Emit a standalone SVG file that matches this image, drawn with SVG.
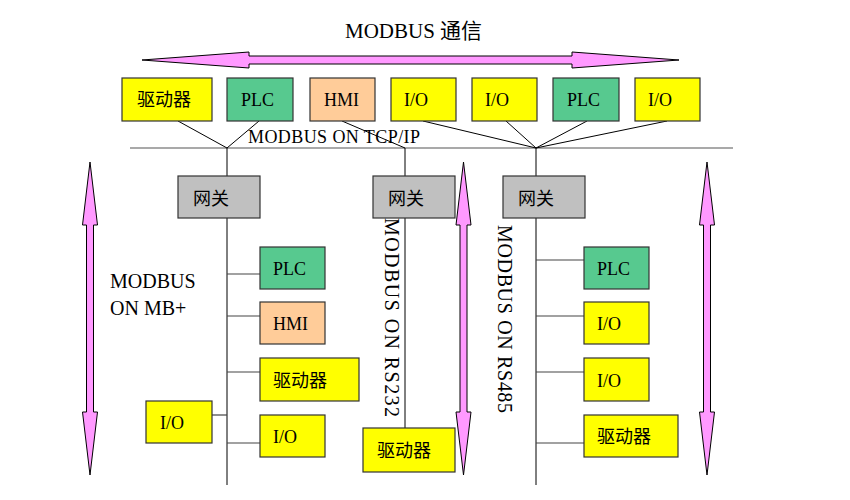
<svg xmlns="http://www.w3.org/2000/svg" width="850" height="500" viewBox="0 0 850 500">
<style>
text{font-family:"Liberation Serif","Noto Sans CJK SC",serif;fill:#000}
.t{font-size:18px}
.lbl{font-size:20px}
.box{stroke:#333;stroke-width:1.2}
.y{fill:#FFFF00}
.g{fill:#57C98F}
.h{fill:#FFCC99}
.gw{fill:#C0C0C0}
.ln{stroke:#000;stroke-width:1;fill:none}
.br{stroke:#444;stroke-width:1.2;fill:none}
.arr{fill:#FF99FF;stroke:#000;stroke-width:1}
</style>
<rect width="850" height="500" fill="#fff"/>
<text x="345" y="38" style="font-size:21px">MODBUS 通信</text>
<polygon class="arr" points="142,60 249,52 249,56 572,56 572,52 679,60 572,68 572,64 249,64 249,68"/>
<polygon class="arr" points="90,162 97.5,225 93.5,225 93.5,412 97.5,412 90,475 82.5,412 86.5,412 86.5,225 82.5,225"/>
<polygon class="arr" points="463.5,162 471,225 467,225 467,412 471,412 463.5,475 456,412 460,412 460,225 456,225"/>
<polygon class="arr" points="707,162 714.5,225 710.5,225 710.5,412 714.5,412 707,475 699.5,412 703.5,412 703.5,225 699.5,225"/>
<g id="connectors">
<line class="br" x1="130" y1="148" x2="733" y2="148" style="stroke:#555"/>
<polyline class="ln" points="178,121 227,148 259,121"/>
<line class="ln" x1="342" y1="121" x2="405" y2="148"/>
<polyline class="ln" points="423,121 536,148 506,121"/>
<polyline class="ln" points="587,121 536,148 667,121"/>
<line class="ln" x1="227" y1="148" x2="227" y2="485"/>
<line class="ln" x1="405" y1="148" x2="405" y2="428"/>
<line class="ln" x1="536" y1="148" x2="536" y2="485"/>
<line class="br" x1="227" y1="274" x2="260" y2="274"/>
<line class="br" x1="227" y1="316" x2="260" y2="316"/>
<line class="br" x1="227" y1="372" x2="260" y2="372"/>
<line class="br" x1="227" y1="443" x2="260" y2="443"/>
<line class="br" x1="212" y1="415" x2="227" y2="415"/>
<line class="br" x1="536" y1="260" x2="584" y2="260"/>
<line class="br" x1="536" y1="316" x2="584" y2="316"/>
<line class="br" x1="536" y1="372" x2="584" y2="372"/>
<line class="br" x1="536" y1="443" x2="584" y2="443"/>
</g>
<text x="248" y="143" class="t" textLength="172">MODBUS ON TCP/IP</text>
<g id="top-drive"><rect class="box y" x="122" y="78" width="90" height="43"/><text class="t" x="137" y="106">驱动器</text></g>
<g id="top-plc1"><rect class="box g" x="227" y="78" width="66" height="43"/><text class="t" x="241" y="106">PLC</text></g>
<g id="top-hmi"><rect class="box h" x="310" y="78" width="65" height="43"/><text class="t" x="324" y="106">HMI</text></g>
<g id="top-io1"><rect class="box y" x="391" y="78" width="65" height="43"/><text class="t" x="404" y="106">I/O</text></g>
<g id="top-io2"><rect class="box y" x="472" y="78" width="65" height="43"/><text class="t" x="485" y="106">I/O</text></g>
<g id="top-plc2"><rect class="box g" x="553" y="78" width="66" height="43"/><text class="t" x="567" y="106">PLC</text></g>
<g id="top-io3"><rect class="box y" x="635" y="78" width="65" height="43"/><text class="t" x="648" y="106">I/O</text></g>
<g id="gw1"><rect class="box gw" x="178" y="176" width="82" height="42"/><text class="t" x="193" y="205">网关</text></g>
<g id="gw2"><rect class="box gw" x="373" y="176" width="82" height="42"/><text class="t" x="388" y="205">网关</text></g>
<g id="gw3"><rect class="box gw" x="503" y="176" width="82" height="42"/><text class="t" x="518" y="205">网关</text></g>
<text class="lbl" x="110" y="288">MODBUS</text>
<text class="lbl" x="110" y="315">ON MB+</text>
<text class="lbl" transform="translate(385,218) rotate(90)" textLength="199">MODBUS ON RS232</text>
<text class="lbl" transform="translate(498,225) rotate(90)" textLength="188">MODBUS ON RS485</text>
<g id="l-plc"><rect class="box g" x="260" y="247" width="65" height="42"/><text class="t" x="273" y="275">PLC</text></g>
<g id="l-hmi"><rect class="box h" x="260" y="302" width="65" height="42"/><text class="t" x="273" y="330">HMI</text></g>
<g id="l-drive"><rect class="box y" x="260" y="358" width="99" height="43"/><text class="t" x="273" y="387">驱动器</text></g>
<g id="l-io"><rect class="box y" x="260" y="415" width="65" height="42"/><text class="t" x="273" y="443">I/O</text></g>
<g id="l-io-left"><rect class="box y" x="146" y="401" width="66" height="42"/><text class="t" x="160" y="429">I/O</text></g>
<g id="m-drive"><rect class="box y" x="363" y="428" width="92" height="44"/><text class="t" x="377" y="457">驱动器</text></g>
<g id="r-plc"><rect class="box g" x="584" y="247" width="65" height="42"/><text class="t" x="597" y="275">PLC</text></g>
<g id="r-io1"><rect class="box y" x="584" y="302" width="65" height="42"/><text class="t" x="597" y="330">I/O</text></g>
<g id="r-io2"><rect class="box y" x="584" y="358" width="65" height="43"/><text class="t" x="597" y="387">I/O</text></g>
<g id="r-drive"><rect class="box y" x="584" y="415" width="94" height="42"/><text class="t" x="597" y="443">驱动器</text></g>
</svg>
